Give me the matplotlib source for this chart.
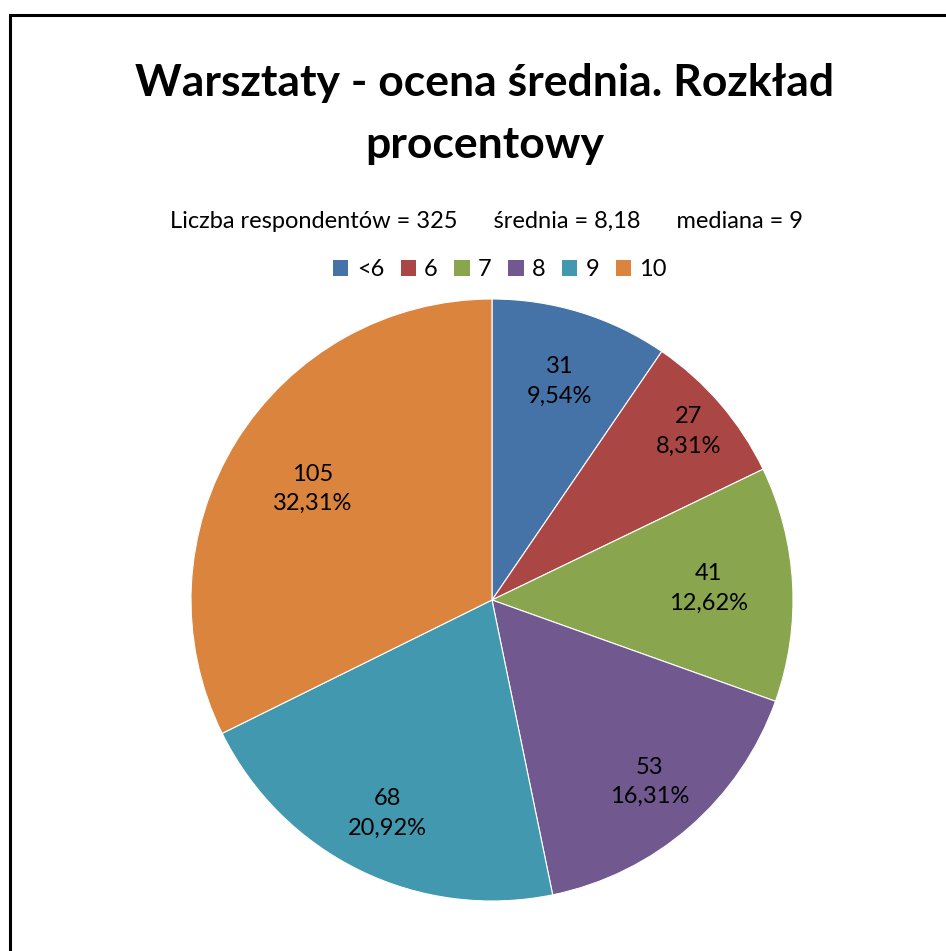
import matplotlib
matplotlib.use("Agg")
import matplotlib.pyplot as plt
from matplotlib.patches import Rectangle
import numpy as np

categories = ["<6", "6", "7", "8", "9", "10"]
counts = [31, 27, 41, 53, 68, 105]
percents = ["9,54%", "8,31%", "12,62%", "16,31%", "20,92%", "32,31%"]
colors = ["#4572A7", "#AA4643", "#89A54E", "#71588F", "#4198AF", "#DB843D"]
title = "Warsztaty - ocena średnia. Rozkład\nprocentowy"
subtitle = "Liczba respondentów = 325      średnia = 8,18      mediana = 9"

label_r = [0.76, 0.86, 0.72, 0.80, 0.79, 0.70]

plt.rcParams['font.family'] = ['Lato', 'DejaVu Sans']

W, H = 946, 951
fig = plt.figure(figsize=(W / 100, H / 100), dpi=100)
fig.patch.set_facecolor("white")

# frame (right/bottom edges outside the image)
fig.patches.append(Rectangle((10 / W, -0.1), 1.2, (H - 15) / H + 0.1,
                             transform=fig.transFigure, fill=False,
                             edgecolor="black", linewidth=2.2))

cx, cy, R = 492, 600, 301
ax = fig.add_axes([(cx - R) / W, (H - cy - R) / H, 2 * R / W, 2 * R / H])
wedges, _ = ax.pie(counts, colors=colors, startangle=90, counterclock=False,
                   radius=1, wedgeprops=dict(edgecolor="white", linewidth=0.8))
ax.set_xlim(-1, 1)
ax.set_ylim(-1, 1)
ax.set_aspect("equal")
ax.axis("off")

total = sum(counts)
cum = 0
for c, p, r in zip(counts, percents, label_r):
    mid = (cum + c / 2) / total
    ang = np.deg2rad(90 - mid * 360)
    ax.text(r * np.cos(ang), r * np.sin(ang), f"{c}\n{p}", ha="center",
            va="center", fontsize=17, linespacing=1.5)
    cum += c

fig.text(485 / W, 1 - 114 / H, title, ha="center", va="center",
         fontsize=32, fontweight="bold", linespacing=1.65)
fig.text(487 / W, 1 - 222 / H, subtitle, ha="center", va="center", fontsize=17)

handles = [Rectangle((0, 0), 1, 1, facecolor=col) for col in colors]
fig.legend(handles, categories, loc="center", bbox_to_anchor=(500 / W, 1 - 270 / H),
           ncol=6, frameon=False, fontsize=17, handlelength=0.65, handleheight=0.65,
           handletextpad=0.35, columnspacing=0.7)

fig.savefig("out.png", dpi=100)
